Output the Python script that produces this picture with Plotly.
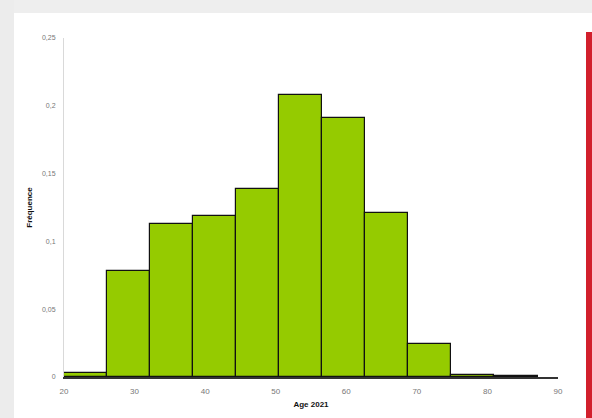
import plotly.graph_objects as go

# Data
bin_edges = [20, 26.1, 32.2, 38.3, 44.4, 50.5, 56.6, 62.7, 68.8, 74.9, 81.0, 87.1]
frequencies = [0.003, 0.078, 0.113, 0.119, 0.139, 0.208, 0.191, 0.121, 0.024, 0.0012, 0.0004]
x_ticks = [20, 30, 40, 50, 60, 70, 80, 90]
y_ticks = [0, 0.05, 0.1, 0.15, 0.2, 0.25]

centers = [(a + b) / 2 for a, b in zip(bin_edges[:-1], bin_edges[1:])]
widths = [b - a for a, b in zip(bin_edges[:-1], bin_edges[1:])]

W, H = 592, 418
ML, MR, MT, MB = 64, 34, 38, 41
PW, PH = W - ML - MR, H - MT - MB


def px(x):
    return (x - ML) / PW


def py(y):
    return (H - MB - y) / PH


fig = go.Figure()
fig.add_trace(go.Bar(
    x=centers, y=frequencies, width=widths,
    marker=dict(color="#95cb00", line=dict(color="#111111", width=1.2)),
    showlegend=False,
))

shapes = [
    # top grey strip
    dict(type="rect", xref="paper", yref="paper", x0=px(0), x1=px(W), y0=py(13), y1=py(0),
         fillcolor="#eeeeee", line=dict(width=0), layer="below"),
    # left grey strip
    dict(type="rect", xref="paper", yref="paper", x0=px(0), x1=px(14), y0=py(H), y1=py(0),
         fillcolor="#ececec", line=dict(width=0), layer="below"),
    # right red strip
    dict(type="rect", xref="paper", yref="paper", x0=px(586), x1=px(W), y0=py(H), y1=py(32),
         fillcolor="#d21f2c", line=dict(width=0), layer="above"),
]

fig.update_layout(
    width=W, height=H,
    margin=dict(l=ML, r=MR, t=MT, b=MB, pad=0),
    paper_bgcolor="white",
    plot_bgcolor="rgba(0,0,0,0)",
    separators=", ",
    bargap=0,
    shapes=shapes,
    font=dict(family="Liberation Sans, Arial, sans-serif", size=8, color="#777777"),
    xaxis=dict(
        range=[20, 90], tickvals=x_ticks, showgrid=False, zeroline=False,
        showline=True, linecolor="#333333", linewidth=1.5, ticks="",
        tickfont=dict(size=8, color="#777777"), ticklabelstandoff=6, automargin=False,
        title=dict(text="<b>Age 2021</b>", font=dict(size=8, color="#111111"), standoff=6),
    ),
    yaxis=dict(
        range=[0, 0.25], tickvals=y_ticks, showgrid=False, zeroline=False,
        showline=True, linecolor="#d9d9d9", linewidth=1, ticks="",
        tickfont=dict(size=7, color="#777777"), ticklabelstandoff=6, automargin=False,
        title=dict(text="<b>Fréquence</b>", font=dict(size=8, color="#111111"), standoff=8),
    ),
)

fig.write_html(
    "out.html",
    config={"displayModeBar": False},
    post_script="document.body.style.margin='0';document.body.style.overflow='hidden';",
)
